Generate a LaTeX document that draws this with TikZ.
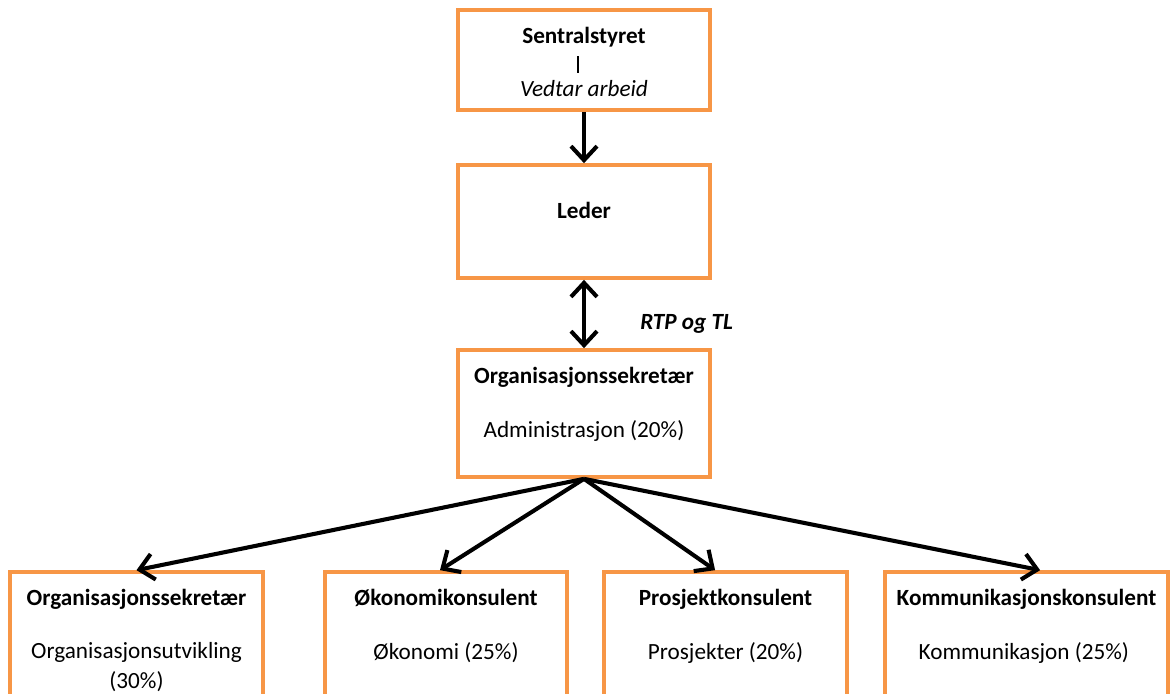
\documentclass[tikz,border=0pt]{standalone}
\usepackage{fontspec}
\setmainfont{Carlito}
\usetikzlibrary{positioning,arrows.meta}
\definecolor{boxorange}{RGB}{247,150,70}

\begin{document}
\begin{tikzpicture}[x=0.025cm, y=-0.025cm,
        >={Straight Barb[length=3.5mm, width=6.5mm]},
        box/.style={draw=boxorange, line width=2.6pt, fill=white, inner sep=0pt, minimum width=6.3cm},
        head/.style={font=\fontsize{16.5}{21}\selectfont\bfseries, inner sep=0pt, anchor=base},
        sub/.style={font=\fontsize{16.5}{21.5}\selectfont, align=center, inner sep=0pt, anchor=north},
        link/.style={line width=2.9pt}
    ]
        \useasboundingbox (0,0) rectangle (1170,693);
        \clip (0,0) rectangle (1170,693);

        % top of the chart
        \node[box, minimum height=2.5cm] (S) at (584,60) {};
        \node[head] (Shead) at ([yshift=-0.875cm]S.north) {Sentralstyret};
        \node[sub, font=\fontsize{16.5}{21}\selectfont\itshape, anchor=base] (Ssub) at ([yshift=-2.2cm]S.north) {Vedtar arbeid};
        \draw[line width=2pt] (Shead.south) ++(-6,9) -- ++(0,17);

        \node[box, minimum height=2.825cm] (L) at (584,221.5) {};
        \node[head] (Lhead) at ([yshift=-1.375cm]L.north) {Leder};

        \node[box, minimum height=3.175cm] (O) at (584,413.5) {};
        \node[head] (Ohead) at ([yshift=-0.875cm]O.north) {Organisasjonssekretær};
        \node[sub] (Osub) at ([yshift=-1.79cm]O.north) {Administrasjon (20\%)};

        \draw[link, ->] (S) to (L);
        \draw[link, <->] (L) to (O);
        \node[head, font=\fontsize{16.5}{21}\selectfont\bfseries\itshape, anchor=base west] (rtp) at (640,329) {RTP og TL};

        % the four consultants
        \foreach \name/\cx/\bw/\tip/\title/\body in {
                B1/136.5/6.325/0/{Organisasjonssekretær}/{Organisasjonsutvikling\\(30\%)},
                B2/446/6.05/-0.15/{Økonomikonsulent}/{Økonomi (25\%)},
                B3/725.5/6.075/-0.26/{Prosjektkonsulent}/{Prosjekter (20\%)},
                B4/1026.5/7.075/0.34/{Kommunikasjonskonsulent}/{Kommunikasjon (25\%)}
                } {
            \node[box, minimum width=\bw cm, minimum height=3.7cm] (\name) at (\cx,646) {};
            \node[head] (\name head) at ([yshift=-0.875cm]\name.north) {\title};
            \node[sub] (\name sub) at ([yshift=-1.79cm]\name.north) {\body};
            \draw[link, ->] (O.south) to ([xshift=\tip cm]\name.north);
        }
    \end{tikzpicture}
\end{document}
